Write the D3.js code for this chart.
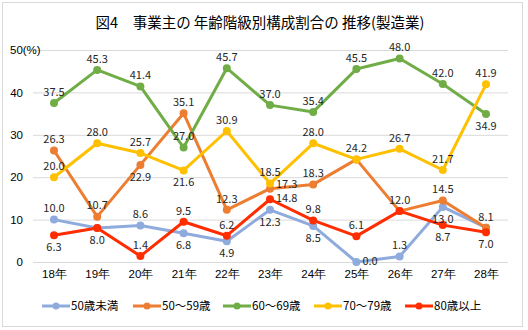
<!DOCTYPE html>
<html>
<head>
<meta charset="utf-8">
<script src="https://cdn.jsdelivr.net/npm/d3@7"></script>
<style>
  body { margin: 0; background: #fff; }
  svg { font-family: "Noto Sans CJK JP", "Noto Sans", sans-serif; }
</style>
</head>
<body>
<div id="chart"></div>
<script>
// 年度
const categories = ["18年", "19年", "20年", "21年", "22年", "23年", "24年", "25年", "26年", "27年", "28年"];
const yTicks = [0, 10, 20, 30, 40, 50];

// 構成割合 (%)
const under50 = [10.0, 8.0, 8.6, 6.8, 4.9, 12.3, 8.5, 0.0, 1.3, 13.0, 8.1];
const age50s = [26.3, 10.7, 22.9, 35.1, 12.3, 17.3, 18.3, 24.2, 12.0, 14.5, 8.1];
const age60s = [37.5, 45.3, 41.4, 27.0, 45.7, 37.0, 35.4, 45.5, 48.0, 42.0, 34.9];
const age70s = [20.0, 28.0, 25.7, 21.6, 30.9, 18.5, 28.0, 24.2, 26.7, 21.7, 41.9];
const over80 = [6.3, 8.0, 1.4, 9.5, 6.2, 14.8, 9.8, 6.1, 12.0, 8.7, 7.0];

// label placement: a = above, b = below, r = right, q = right, a bit higher
const series = [
    { name: "50歳未満", values: under50, color: "#8FAADC", pos: "ababbbbraba" },
    { name: "50～59歳", values: age50s, color: "#ED7D31", pos: "aabaaqaaaaa" },
    { name: "60～69歳", values: age60s, color: "#70AD47", pos: "aaaaaaaaaab" },
    { name: "70～79歳", values: age70s, color: "#FFC000", pos: "aaabaaaaaaa" },
    { name: "80歳以上", values: over80, color: "#FF2D00", pos: "bbaaaraaabb" }
];

const width = 528, height = 330;

const svg = d3.select("#chart").append("svg")
    .attr("width", width)
    .attr("height", height);

svg.append("rect")
    .attr("x", 2.5).attr("y", 2.5)
    .attr("width", 520).attr("height", 324)
    .attr("fill", "#fff")
    .attr("stroke", "#d9d9d9");

svg.append("text")
    .attr("x", 260).attr("y", 28)
    .attr("text-anchor", "middle")
    .attr("font-size", 14.5)
    .attr("fill", "#000")
    .text("図4　事業主の 年齢階級別構成割合の 推移(製造業)");

const x = d3.scalePoint()
    .domain(categories)
    .range([32.4, 507.6])
    .padding(0.5);

const y = d3.scaleLinear()
    .domain([0, 50])
    .range([262, 50]);

// gridlines
svg.append("g")
    .selectAll("line")
    .data(yTicks)
    .enter()
    .append("line")
    .attr("x1", 33).attr("x2", 508)
    .attr("y1", d => y(d) + 0.5).attr("y2", d => y(d) + 0.5)
    .attr("stroke", "#d9d9d9");

// y axis labels
const yAxis = svg.append("g")
    .attr("transform", "translate(23,0)")
    .call(d3.axisLeft(y).tickValues(yTicks).tickSize(0).tickPadding(0));
yAxis.select(".domain").remove();
yAxis.selectAll("text")
    .attr("font-size", 11.5)
    .attr("fill", "#000")
    .attr("font-family", "inherit");
yAxis.selectAll(".tick").filter(d => d === 50).select("text")
    .attr("text-anchor", "start")
    .attr("x", -13)
    .text("50(%)");

// x axis labels
const xAxis = svg.append("g")
    .attr("transform", "translate(0,270)")
    .call(d3.axisBottom(x).tickSize(0).tickPadding(0));
xAxis.select(".domain").remove();
xAxis.selectAll("text")
    .attr("font-size", 11.5)
    .attr("fill", "#000")
    .attr("font-family", "inherit");

const line = d3.line()
    .x((d, i) => x(categories[i]))
    .y(d => y(d));

const groups = svg.append("g")
    .selectAll("g")
    .data(series)
    .enter()
    .append("g");

groups.append("path")
    .attr("d", d => line(d.values))
    .attr("fill", "none")
    .attr("stroke", d => d.color)
    .attr("stroke-width", 3)
    .attr("stroke-linejoin", "round");

groups.selectAll("circle")
    .data(d => d.values.map((v, i) => ({ v: v, i: i, color: d.color })))
    .enter()
    .append("circle")
    .attr("cx", d => x(categories[d.i]))
    .attr("cy", d => y(d.v))
    .attr("r", 4)
    .attr("fill", d => d.color);

// data labels (same text at same spot is drawn once)
const labels = svg.append("g");
const seen = {};
series.forEach(function(s) {
    s.values.forEach(function(v, i) {
        const p = s.pos[i];
        const px = x(categories[i]), py = y(v);
        const lx = (p === "r" || p === "q") ? px + 6 : px;
        const ly = p === "a" ? py - 11 : p === "b" ? py + 12 : p === "q" ? py - 4 : py - 1;
        const key = v.toFixed(1) + "@" + Math.round(lx) + "," + Math.round(ly);
        if (seen[key]) return;
        seen[key] = true;
        labels.append("text")
            .attr("x", lx)
            .attr("y", ly)
            .attr("dy", "0.35em")
            .attr("text-anchor", (p === "r" || p === "q") ? "start" : "middle")
            .attr("font-size", 11)
            .attr("fill", "#262626")
            .text(v.toFixed(1));
    });
});

// legend
const legendX = [42, 133, 223, 314, 405];
const legend = svg.append("g")
    .selectAll("g")
    .data(series)
    .enter()
    .append("g")
    .attr("transform", (d, i) => "translate(" + legendX[i] + ",306)");
legend.append("line")
    .attr("x1", 0).attr("x2", 28)
    .attr("stroke", d => d.color)
    .attr("stroke-width", 3);
legend.append("circle")
    .attr("cx", 14).attr("r", 3.5)
    .attr("fill", d => d.color);
legend.append("text")
    .attr("x", 29)
    .attr("dy", "0.35em")
    .attr("font-size", 11.5)
    .attr("fill", "#000")
    .text(d => d.name);
</script>
</body>
</html>
